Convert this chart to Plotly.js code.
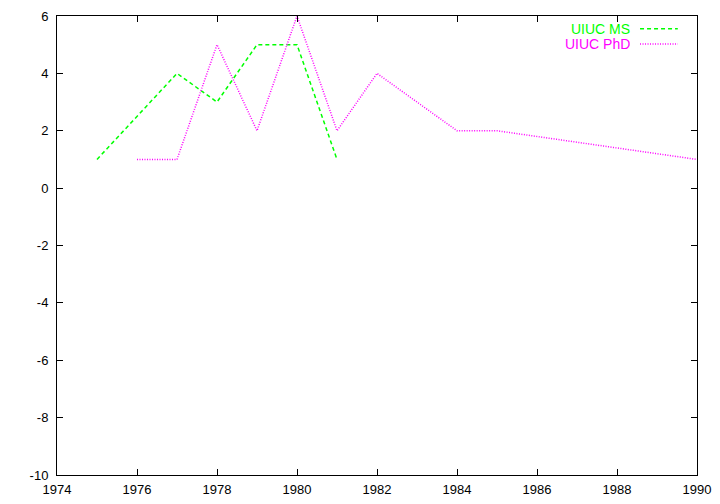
<!DOCTYPE html>
<html><head><meta charset="utf-8">
<script src="https://cdn.plot.ly/plotly-3.0.1.min.js"></script>
<style>html,body{margin:0;padding:0;background:#fff}</style>
</head><body>
<div id="chart" style="width:720px;height:504px"></div>
<script>
const msYears = [1975, 1977, 1978, 1979, 1980, 1981];
const msValues = [1, 4, 3, 5, 5, 1];
const phdYears = [1976, 1977, 1978, 1979, 1980, 1981, 1982, 1984, 1985, 1990];
const phdValues = [1, 1, 5, 2, 6, 2, 4, 2, 2, 1];
const seriesNames = ["UIUC MS", "UIUC PhD"];
const xTicks = [1974, 1976, 1978, 1980, 1982, 1984, 1986, 1988, 1990];
const yTicks = [-10, -8, -6, -4, -2, 0, 2, 4, 6];

const FONT = 'Liberation Sans, Arial, sans-serif';

const traces = [
  {x: msYears, y: msValues, mode: 'lines', name: seriesNames[0],
   line: {color: '#00ff00', width: 1.5, dash: '4px,3px'}, showlegend: false},
  {x: phdYears, y: phdValues, mode: 'lines', name: seriesNames[1],
   line: {color: '#ff00ff', width: 1.5, dash: '1px,1.5px'}, showlegend: false}
];

const axisCommon = {
  showgrid: false, zeroline: false, showline: true, linecolor: '#000', linewidth: 1,
  mirror: 'allticks', ticks: 'inside', ticklen: 6, tickcolor: '#000',
  tickfont: {family: FONT, size: 13, color: '#000'}
};

const layout = {
  width: 720, height: 504,
  margin: {l: 57, r: 23, t: 16, b: 29},
  paper_bgcolor: '#fff', plot_bgcolor: '#fff',
  xaxis: Object.assign({}, axisCommon, {range: [1974, 1990], tickvals: xTicks, ticktext: xTicks.map(String), ticklabelstandoff: 2}),
  yaxis: Object.assign({}, axisCommon, {range: [-10, 6], tickvals: yTicks, ticktext: yTicks.map(String), ticklabelstandoff: 5}),
  annotations: [
    {xref: 'paper', yref: 'paper', x: 0.899, y: 0.972, xanchor: 'right', yanchor: 'middle',
     text: seriesNames[0], showarrow: false, font: {family: FONT, size: 14, color: '#00ff00'}},
    {xref: 'paper', yref: 'paper', x: 0.899, y: 0.939, xanchor: 'right', yanchor: 'middle',
     text: seriesNames[1], showarrow: false, font: {family: FONT, size: 14, color: '#ff00ff'}}
  ],
  shapes: [
    {type: 'line', xref: 'paper', yref: 'paper', x0: 0.911, x1: 0.970, y0: 0.972, y1: 0.972,
     line: {color: '#00ff00', width: 1.5, dash: '4px,3px'}},
    {type: 'line', xref: 'paper', yref: 'paper', x0: 0.911, x1: 0.970, y0: 0.939, y1: 0.939,
     line: {color: '#ff00ff', width: 1.5, dash: '1px,1.5px'}}
  ]
};

Plotly.newPlot('chart', traces, layout, {displayModeBar: false, staticPlot: true});
</script>
</body></html>
